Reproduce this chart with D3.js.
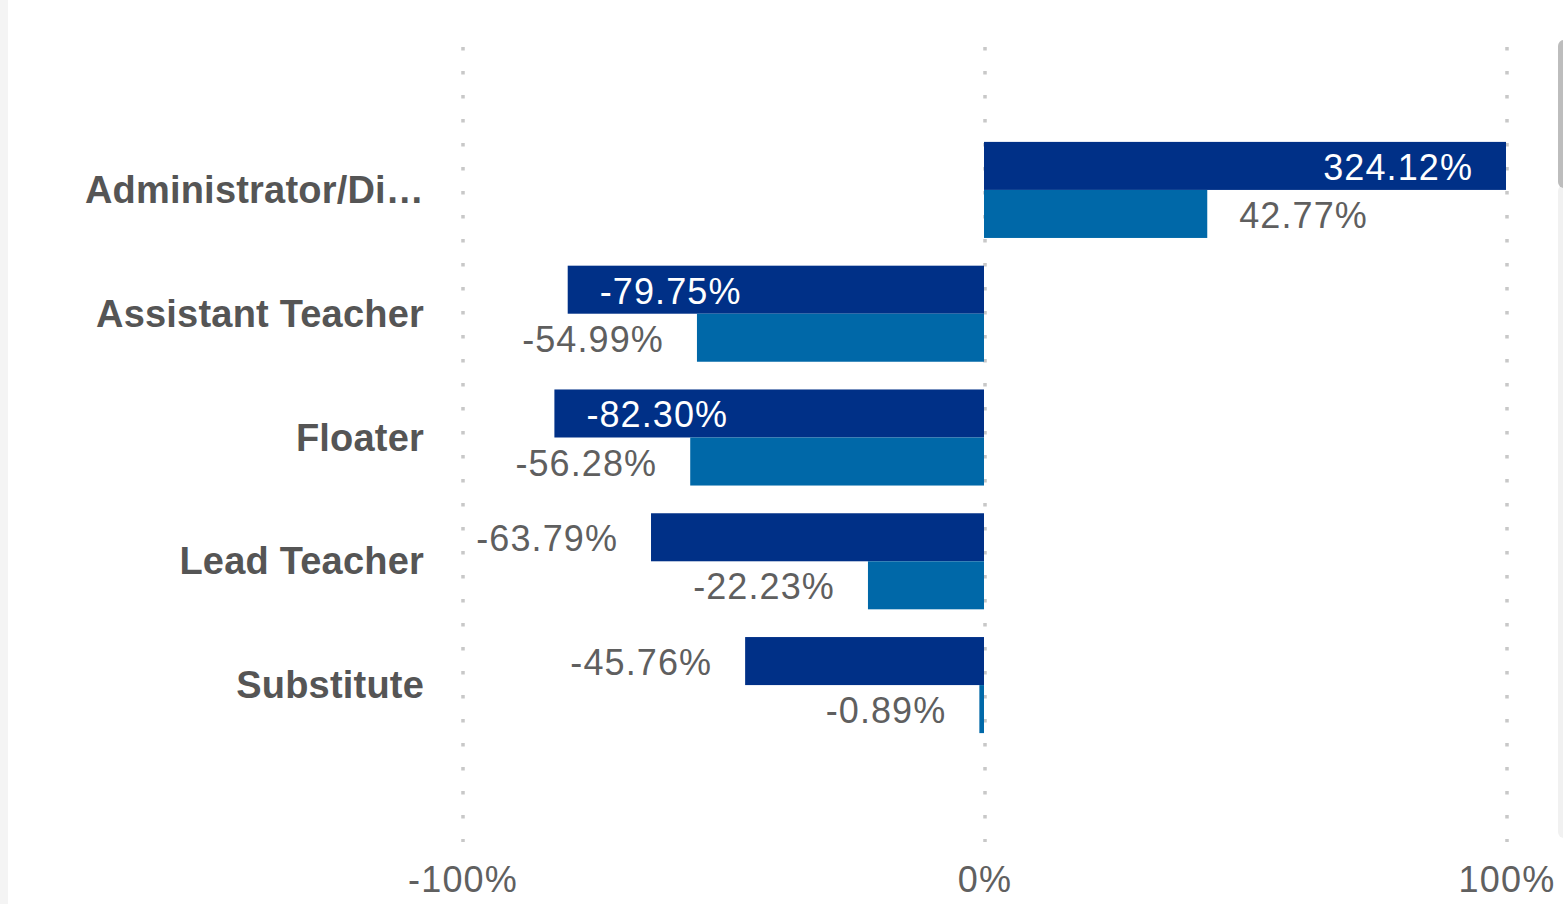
<!DOCTYPE html>
<html><head><meta charset="utf-8">
<script src="https://cdn.jsdelivr.net/npm/d3@7/dist/d3.min.js"></script>
<style>
html,body{margin:0;padding:0;background:#fff;overflow:hidden}
svg{display:block;font-family:"Liberation Sans",Arial,sans-serif}
</style></head>
<body>
<svg id="chart" width="1563" height="904"></svg>
<script>
const categories = ["Administrator/Di…","Assistant Teacher","Floater","Lead Teacher","Substitute"];
const seriesA = [324.12, -79.75, -82.30, -63.79, -45.76];
const seriesB = [42.77, -54.99, -56.28, -22.23, -0.89];
const tickValues = [-100, 0, 100];
const tickLabels = ["-100%","0%","100%"];
const seriesColors = ["#003087", "#0068a8"];

const svg = d3.select("#chart");
// side decorations
svg.append("rect").attr("x",0).attr("y",0).attr("width",8).attr("height",904).attr("fill","#f4f4f4");
svg.append("rect").attr("x",1558).attr("y",185).attr("width",12).attr("height",653).attr("rx",6).attr("fill","#f1f1f1");
svg.append("rect").attr("x",1558).attr("y",40).attr("width",12).attr("height",148).attr("rx",6).attr("fill","#bdbdbd");

const x = d3.scaleLinear().domain([-100,100]).range([463,1507]).clamp(true);
const y = d3.scaleBand().domain(categories).range([80,795]).paddingInner(0.224).paddingOuter(0.5);
const bw = y.bandwidth()/2;

// gridlines (dotted)
svg.append("g").selectAll("line").data(tickValues).join("line")
  .attr("x1",d=>x(d)).attr("x2",d=>x(d)).attr("y1",47).attr("y2",842)
  .attr("stroke","#c8c8c8").attr("stroke-width",3.5).attr("stroke-dasharray","3.5 20.5");

// axis tick labels
svg.append("g").selectAll("text").data(tickValues).join("text")
  .attr("x",d=>x(d)).attr("y",892).attr("text-anchor","middle")
  .attr("font-size",36).attr("letter-spacing",1.2).attr("fill","#606060").text((d,i)=>tickLabels[i]);

// category labels
svg.append("g").selectAll("text").data(categories).join("text")
  .attr("x",424).attr("y",d=>y(d)+y.bandwidth()/2+13).attr("text-anchor","end")
  .attr("font-size",38).attr("letter-spacing",0.2).attr("font-weight","bold").attr("fill","#555").text(d=>d);

const series = [seriesA, seriesB];
series.forEach((vals, si) => {
  const g = svg.append("g");
  const data = categories.map((c,i)=>({c, v: vals[i]}));
  g.selectAll("rect").data(data).join("rect")
    .attr("x", d=>Math.min(x(0),x(d.v))-1)
    .attr("y", d=>y(d.c)+si*bw)
    .attr("width", d=>Math.abs(x(d.v)-x(0)))
    .attr("height", bw)
    .attr("fill", seriesColors[si]);
  g.selectAll("text").data(data).join("text")
    .attr("y", d=>y(d.c)+si*bw+bw/2+14)
    .attr("font-size",36)
    .attr("letter-spacing",1.1)
    .each(function(d){
      const inside = Math.abs(d.v) > 75;
      const end = x(d.v)-1;
      const t = d3.select(this);
      t.text(d.v.toFixed(2)+"%");
      if (inside) {
        t.attr("fill","#fff");
        if (d.v >= 0) t.attr("x", end-33).attr("text-anchor","end");
        else t.attr("x", end+32).attr("text-anchor","start");
      } else {
        t.attr("fill","#5f5f5f");
        if (d.v >= 0) t.attr("x", end+32).attr("text-anchor","start");
        else t.attr("x", end-33).attr("text-anchor","end");
      }
    });
});
</script>
</body></html>
